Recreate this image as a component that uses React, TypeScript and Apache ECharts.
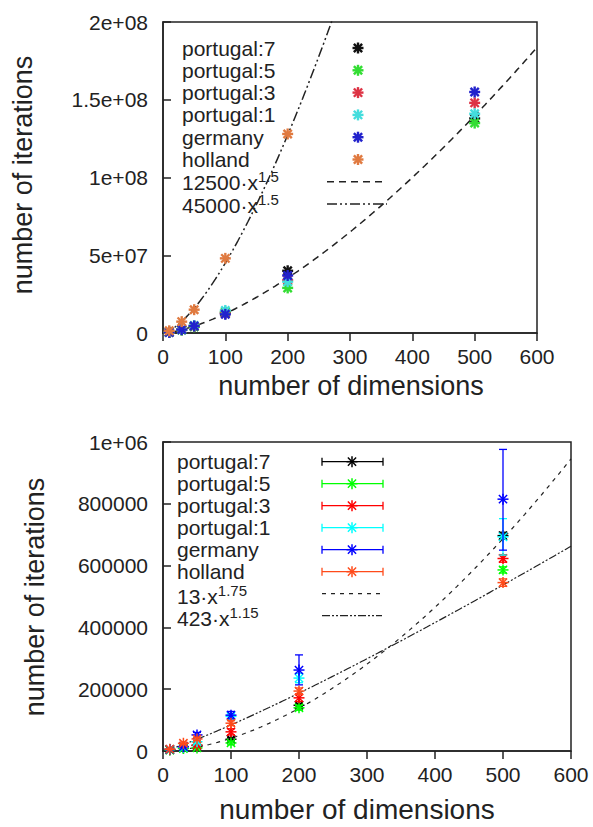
import React, { useEffect, useRef } from "react";
import * as echarts from "echarts";

// ---------- data ----------
const dims = [10, 30, 50, 100, 200, 500];
const seriesNames = ["portugal:7", "portugal:5", "portugal:3", "portugal:1", "germany", "holland"];

// top chart (mean iterations)
const topPortugal7 = [0.4e6, 2.0e6, 4.2e6, 13.0e6, 40.0e6, 138e6];
const topPortugal5 = [0.4e6, 2.0e6, 4.0e6, 13.5e6, 29.0e6, 135e6];
const topPortugal3 = [0.4e6, 2.5e6, 4.5e6, 12.5e6, 34.0e6, 148e6];
const topPortugal1 = [0.4e6, 2.2e6, 4.8e6, 14.5e6, 33.0e6, 141e6];
const topGermany = [0.4e6, 2.2e6, 4.5e6, 12.0e6, 37.0e6, 155e6];
const topHolland = [1.4e6, 7.3e6, 15.0e6, 48.0e6, 128e6, null];

// bottom chart (mean, low, high)
const botPortugal7 = [4e3, 10e3, 18e3, 38e3, 148e3, 697e3];
const botPortugal7Low = [3e3, 8e3, 15e3, 33e3, 142e3, 686e3];
const botPortugal7High = [5e3, 12e3, 21e3, 43e3, 154e3, 708e3];
const botPortugal5 = [3e3, 8e3, 10e3, 26e3, 140e3, 586e3];
const botPortugal5Low = [2e3, 6e3, 7e3, 20e3, 132e3, 576e3];
const botPortugal5High = [4e3, 10e3, 13e3, 32e3, 148e3, 596e3];
const botPortugal3 = [5e3, 14e3, 19e3, 62e3, 172e3, 623e3];
const botPortugal3Low = [4e3, 11e3, 15e3, 52e3, 160e3, 611e3];
const botPortugal3High = [6e3, 17e3, 23e3, 72e3, 184e3, 635e3];
const botPortugal1 = [5e3, 12e3, 30e3, 112e3, 236e3, 693e3];
const botPortugal1Low = [4e3, 10e3, 25e3, 104e3, 221e3, 634e3];
const botPortugal1High = [6e3, 14e3, 35e3, 120e3, 251e3, 752e3];
const botGermany = [5e3, 14e3, 52e3, 116e3, 262e3, 815e3];
const botGermanyLow = [4e3, 11e3, 44e3, 104e3, 214e3, 650e3];
const botGermanyHigh = [6e3, 17e3, 60e3, 128e3, 311e3, 976e3];
const botHolland = [6e3, 25e3, 39e3, 90e3, 194e3, 545e3];
const botHollandLow = [5e3, 21e3, 34e3, 82e3, 184e3, 533e3];
const botHollandHigh = [7e3, 29e3, 44e3, 98e3, 204e3, 557e3];

// fitted curves
const topFitCoef = [12500, 45000];
const topFitPow = [1.5, 1.5];
const topFitBase = ["12500·x", "45000·x"];
const topFitSup = ["1.5", "1.5"];
const botFitCoef = [13, 423];
const botFitPow = [1.75, 1.15];
const botFitBase = ["13·x", "423·x"];
const botFitSup = ["1.75", "1.15"];

// tick labels
const xTicks = [0, 100, 200, 300, 400, 500, 600];
const topYTickLabels = ["0", "5e+07", "1e+08", "1.5e+08", "2e+08"];
const botYTickLabels = ["0", "200000", "400000", "600000", "800000", "1e+06"];

const topColors = ["#111111", "#33dd33", "#dd3344", "#44dddd", "#2222cc", "#e07a40"];
const botColors = ["#000000", "#00ff00", "#ff0000", "#00ffff", "#0000ff", "#ff4a1a"];

const FONT = "'Liberation Sans', Arial, Helvetica, sans-serif";
const INK = "#222222";

function starLines(cx: number, cy: number, r: number, color: string, lw: number) {
  const d = r * 0.75;
  const segs = [
    [cx - r, cy, cx + r, cy],
    [cx, cy - r, cx, cy + r],
    [cx - d, cy - d, cx + d, cy + d],
    [cx - d, cy + d, cx + d, cy - d],
  ];
  return segs.map((s) => ({
    type: "line",
    shape: { x1: s[0], y1: s[1], x2: s[2], y2: s[3] },
    style: { stroke: color, lineWidth: lw },
  }));
}

export default function App() {
  const ref = useRef<HTMLDivElement>(null);

  useEffect(() => {
    if (!ref.current) return;
    const chart = echarts.init(ref.current, null, { renderer: "svg" });

    const topVals = [topPortugal7, topPortugal5, topPortugal3, topPortugal1, topGermany, topHolland];
    const botVals = [botPortugal7, botPortugal5, botPortugal3, botPortugal1, botGermany, botHolland];
    const botLows = [botPortugal7Low, botPortugal5Low, botPortugal3Low, botPortugal1Low, botGermanyLow, botHollandLow];
    const botHighs = [botPortugal7High, botPortugal5High, botPortugal3High, botPortugal1High, botGermanyHigh, botHollandHigh];

    const fitX: number[] = [];
    for (let x = 0; x <= 600; x += 4) fitX.push(x);

    const series: any[] = [];

    // fit lines
    const topDash = [[7, 5], [10, 3, 2, 3, 2, 3]];
    const botDash = [[4, 5], [8, 2, 2, 2, 2, 2]];
    topFitCoef.forEach((c, k) => {
      series.push({
        type: "line",
        xAxisIndex: 0,
        yAxisIndex: 0,
        symbol: "none",
        silent: true,
        clip: true,
        data: fitX.map((x) => [x, c * Math.pow(x, topFitPow[k])]),
        lineStyle: { color: INK, width: 1.5, type: topDash[k] },
        z: 1,
      });
    });
    botFitCoef.forEach((c, k) => {
      series.push({
        type: "line",
        xAxisIndex: 1,
        yAxisIndex: 1,
        symbol: "none",
        silent: true,
        clip: true,
        data: fitX.map((x) => [x, c * Math.pow(x, botFitPow[k])]),
        lineStyle: { color: INK, width: 1.2, type: botDash[k] },
        z: 1,
      });
    });

    // top points
    seriesNames.forEach((name, k) => {
      const data = dims
        .map((d, i) => [d, topVals[k][i]])
        .filter((p) => p[1] !== null && p[1] !== undefined);
      series.push({
        type: "custom",
        name,
        xAxisIndex: 0,
        yAxisIndex: 0,
        data,
        encode: { x: 0, y: 1 },
        z: 3,
        renderItem: (_p: any, api: any) => {
          const pt = api.coord([api.value(0), api.value(1)]);
          return { type: "group", children: starLines(pt[0], pt[1], 5.5, topColors[k], 2.4) };
        },
      });
    });

    // bottom points with error bars
    seriesNames.forEach((name, k) => {
      const data = dims.map((d, i) => [d, botVals[k][i], botLows[k][i], botHighs[k][i]]);
      series.push({
        type: "custom",
        name,
        xAxisIndex: 1,
        yAxisIndex: 1,
        data,
        encode: { x: 0, y: 1 },
        z: 3,
        renderItem: (_p: any, api: any) => {
          const x = api.value(0);
          const pt = api.coord([x, api.value(1)]);
          const lo = api.coord([x, api.value(2)]);
          const hi = api.coord([x, api.value(3)]);
          const col = botColors[k];
          const children: any[] = [
            { type: "line", shape: { x1: lo[0], y1: lo[1], x2: hi[0], y2: hi[1] }, style: { stroke: col, lineWidth: 1.3 } },
            { type: "line", shape: { x1: lo[0] - 4, y1: lo[1], x2: lo[0] + 4, y2: lo[1] }, style: { stroke: col, lineWidth: 1.3 } },
            { type: "line", shape: { x1: hi[0] - 4, y1: hi[1], x2: hi[0] + 4, y2: hi[1] }, style: { stroke: col, lineWidth: 1.3 } },
            ...starLines(pt[0], pt[1], 5.5, col, 1.5),
          ];
          return { type: "group", children };
        },
      });
    });

    // legend + titles as graphics
    const graphic: any[] = [];
    const txt = (x: number, y: number, text: string, size: number, extra: any = {}) => ({
      type: "text",
      x,
      y,
      style: { text, fontSize: size, fontFamily: FONT, fill: INK, verticalAlign: "middle", ...extra },
      silent: true,
    });
    // base text center lands at baseY; superscript raised ~8px
    const richFormula = (x: number, baseY: number, b: string, s: string) => ({
      type: "text",
      x,
      y: baseY - 1.5,
      silent: true,
      style: {
        text: "{b|" + b + "}{s|" + s + "}",
        fontFamily: FONT,
        verticalAlign: "middle",
        rich: {
          b: { fontSize: 21, lineHeight: 24, verticalAlign: "bottom", fill: INK, fontFamily: FONT },
          s: { fontSize: 15, lineHeight: 15, verticalAlign: "top", fill: INK, fontFamily: FONT },
        },
      },
    });

    // top legend
    seriesNames.forEach((name, k) => {
      const y = 48 + k * 22.3;
      graphic.push(txt(182, y, name, 21));
      graphic.push({ type: "group", silent: true, children: starLines(358, y, 5.5, topColors[k], 2.4) });
    });
    topFitBase.forEach((b, k) => {
      const y = 48 + (6 + k) * 22.3;
      graphic.push(richFormula(182, y + 1, b, topFitSup[k]));
      graphic.push({
        type: "line",
        silent: true,
        shape: { x1: 327, y1: y, x2: 387, y2: y },
        style: { stroke: INK, lineWidth: 1.5, lineDash: topDash[k] },
      });
    });

    // bottom legend
    seriesNames.forEach((name, k) => {
      const y = 461.7 + k * 22;
      const col = botColors[k];
      graphic.push(txt(177, y, name, 21));
      graphic.push({
        type: "group",
        silent: true,
        children: [
          { type: "line", shape: { x1: 322, y1: y, x2: 383, y2: y }, style: { stroke: col, lineWidth: 1.3 } },
          { type: "line", shape: { x1: 322, y1: y - 4, x2: 322, y2: y + 4 }, style: { stroke: col, lineWidth: 1.3 } },
          { type: "line", shape: { x1: 383, y1: y - 4, x2: 383, y2: y + 4 }, style: { stroke: col, lineWidth: 1.3 } },
          ...starLines(352, y, 5.5, col, 1.5),
        ],
      });
    });
    botFitBase.forEach((b, k) => {
      const y = 461.7 + (6 + k) * 22;
      graphic.push(richFormula(177, y + 3, b, botFitSup[k]));
      graphic.push({
        type: "line",
        silent: true,
        shape: { x1: 322, y1: y, x2: 382, y2: y },
        style: { stroke: INK, lineWidth: 1.2, lineDash: botDash[k] },
      });
    });

    // axis titles
    graphic.push(txt(351, 386, "number of dimensions", 27, { align: "center" }));
    graphic.push(txt(357, 809, "number of dimensions", 28, { align: "center" }));
    graphic.push({
      type: "text",
      x: 23,
      y: 175,
      rotation: Math.PI / 2,
      silent: true,
      style: { text: "number of iterations", fontSize: 27, fontFamily: FONT, fill: INK, align: "center", verticalAlign: "middle" },
    });
    graphic.push({
      type: "text",
      x: 35,
      y: 597,
      rotation: Math.PI / 2,
      silent: true,
      style: { text: "number of iterations", fontSize: 27, fontFamily: FONT, fill: INK, align: "center", verticalAlign: "middle" },
    });

    const xAxisBase = (gi: number) => ({
      gridIndex: gi,
      type: "value",
      min: xTicks[0],
      max: xTicks[xTicks.length - 1],
      interval: 100,
      axisLine: { show: true, lineStyle: { color: INK, width: 1.5 } },
      axisTick: { show: true, inside: false, length: 8, lineStyle: { color: INK, width: 1.5 } },
      splitLine: { show: false },
      axisLabel: { fontSize: 21, margin: 13, color: INK, fontFamily: FONT },
    });

    chart.setOption({
      animation: false,
      backgroundColor: "#ffffff",
      grid: [
        { left: 163, top: 22, width: 374, height: 311, show: true, borderColor: INK, borderWidth: 1.5, backgroundColor: "transparent" },
        { left: 163, top: 442, width: 408, height: 309, show: true, borderColor: INK, borderWidth: 1.5, backgroundColor: "transparent" },
      ],
      xAxis: [xAxisBase(0), xAxisBase(1)],
      yAxis: [
        {
          gridIndex: 0,
          type: "value",
          min: 0,
          max: 2e8,
          interval: 5e7,
          axisLine: { show: true, lineStyle: { color: INK, width: 1.5 } },
          axisTick: { show: true, inside: true, length: 8, lineStyle: { color: INK, width: 1.5 } },
          splitLine: { show: false },
          axisLabel: {
            fontSize: 21,
            margin: 15,
            color: INK,
            fontFamily: FONT,
            formatter: (v: number) => topYTickLabels[Math.round(v / 5e7)] ?? "",
          },
        },
        {
          gridIndex: 1,
          type: "value",
          min: 0,
          max: 1e6,
          interval: 2e5,
          axisLine: { show: true, lineStyle: { color: INK, width: 1.5 } },
          axisTick: { show: true, inside: true, length: 8, lineStyle: { color: INK, width: 1.5 } },
          splitLine: { show: false },
          axisLabel: {
            fontSize: 21,
            margin: 15,
            color: INK,
            fontFamily: FONT,
            formatter: (v: number) => botYTickLabels[Math.round(v / 2e5)] ?? "",
          },
        },
      ],
      series,
      graphic,
    });

    return () => chart.dispose();
  }, []);

  return (
    <div
      ref={ref}
      style={{ position: "absolute", left: 0, top: 0, width: 593, height: 827, background: "#fff" }}
    />
  );
}
